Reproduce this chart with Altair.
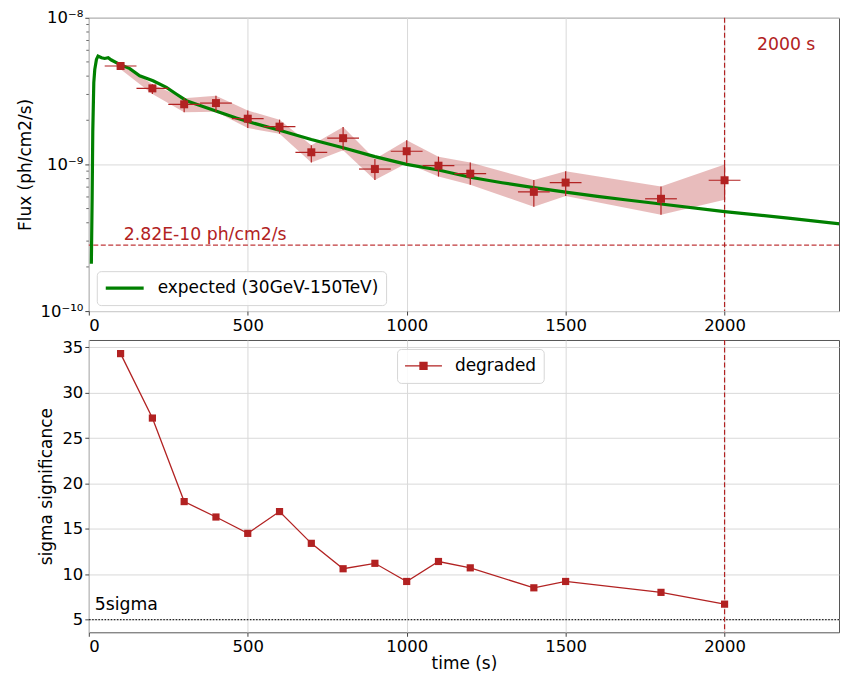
import altair as alt
import pandas as pd

RED = "#b22222"
GREEN = "#008000"
FONT = "DejaVu Sans"

# ---- data ----
t_bins = [100, 200, 300, 400, 500, 600, 700, 800, 900, 1000, 1100, 1200, 1400, 1500, 1800, 2000]
t_halfwidth = [50, 50, 50, 50, 50, 50, 50, 50, 50, 50, 50, 50, 50, 50, 50, 50]
flux = [4.69e-9, 3.30e-9, 2.57e-9, 2.62e-9, 2.05e-9, 1.81e-9, 1.21e-9, 1.51e-9,
        9.3e-10, 1.23e-9, 9.8e-10, 8.65e-10, 6.5e-10, 7.52e-10, 5.83e-10, 7.8e-10]
flux_low = [4.45e-9, 3.02e-9, 2.27e-9, 2.29e-9, 1.77e-9, 1.62e-9, 1.03e-9, 1.25e-9,
            7.83e-10, 1.02e-9, 8.26e-10, 7.26e-10, 5.14e-10, 6.08e-10, 4.54e-10, 5.74e-10]
flux_high = [4.89e-9, 3.52e-9, 2.83e-9, 2.94e-9, 2.33e-9, 2.02e-9, 1.35e-9, 1.80e-9,
             1.09e-9, 1.46e-9, 1.13e-9, 1.03e-9, 7.83e-10, 9.0e-10, 7.06e-10, 1.0e-9]
sigma = [34.3, 27.2, 18.0, 16.3, 14.5, 16.9, 13.4, 10.6, 11.2, 9.2, 11.4, 10.7, 8.5, 9.2, 8.0, 6.7]

model_t = [8, 10.5, 12.5, 15.7, 18.8, 24, 29, 40, 50, 61, 71, 97, 129, 160, 202, 244, 275,
           307, 359, 411, 464, 500, 600, 700, 800, 900, 1000, 1100, 1200, 1300, 1400, 1500,
           1600, 1700, 1800, 2000, 2200, 2385]
model_flux = [2.1e-10, 5.9e-10, 1.67e-9, 3.62e-9, 4.45e-9, 5.2e-9, 5.48e-9, 5.34e-9, 5.28e-9,
              5.34e-9, 5.15e-9, 4.81e-9, 4.5e-9, 4.02e-9, 3.72e-9, 3.35e-9, 3.02e-9, 2.72e-9,
              2.48e-9, 2.27e-9, 2.07e-9, 1.96e-9, 1.71e-9, 1.48e-9, 1.30e-9, 1.13e-9, 1.0e-9,
              9.16e-10, 8.17e-10, 7.5e-10, 6.95e-10, 6.47e-10, 6.05e-10, 5.7e-10, 5.37e-10,
              4.77e-10, 4.3e-10, 3.89e-10]

threshold_flux = [2.82e-10]
threshold_label = ["2.82E-10 ph/cm2/s"]
duration = [2000]
duration_label = ["2000 s"]
sigma_limit = [5]
sigma_label = ["5sigma"]

x_ticks = [0, 500, 1000, 1500, 2000]
x_domain = [0, 2360]
flux_ticks = [1e-10, 1e-9, 1e-8]
flux_tick_labels = ["10⁻¹⁰", "10⁻⁹", "10⁻⁸"]
flux_minor = [2e-10, 3e-10, 4e-10, 5e-10, 6e-10, 7e-10, 8e-10, 9e-10,
              2e-9, 3e-9, 4e-9, 5e-9, 6e-9, 7e-9, 8e-9, 9e-9]
sigma_ticks = [5, 10, 15, 20, 25, 30, 35]
sigma_domain = [3.6, 35.8]

model_name = "expected (30GeV-150TeV)"
sig_name = "degraded"

# ---- tables ----
pts = pd.DataFrame({
    "t": t_bins,
    "t_lo": [a - b for a, b in zip(t_bins, t_halfwidth)],
    "t_hi": [a + b for a, b in zip(t_bins, t_halfwidth)],
    "flux": flux, "lo": flux_low, "hi": flux_high,
    "sigma": sigma,
})
model = pd.DataFrame({"t": model_t, "flux": model_flux, "series": model_name})
sigdf = pd.DataFrame({"t": t_bins, "sigma": sigma, "series": sig_name})

W, H1, H2 = 752, 294, 293

xs = alt.Scale(domain=x_domain, nice=False, zero=False)
x_axis = alt.Axis(values=x_ticks, title=None, grid=True, format="d")
ys_flux = alt.Scale(type="log", domain=[flux_ticks[0], flux_ticks[-1]], nice=False)

label_expr = " : ".join(
    f"datum.value < {v * 3:.3e} ? '{lab}'" for v, lab in zip(flux_ticks[:-1], flux_tick_labels[:-1])
) + f" : '{flux_tick_labels[-1]}'"

y_axis_flux = alt.Axis(values=flux_ticks, labelExpr=label_expr, title="Flux (ph/cm2/s)",
                       grid=True, titlePadding=6)

legend_common = dict(
    title=None, orient="none", clipHeight=20, labelFontSize=17, labelOffset=12, padding=7,
    strokeColor="#d6d6d6", fillColor="rgba(255,255,255,0.85)", cornerRadius=4,
    labelColor="black", symbolOffset=0, labelLimit=500,
)

base = alt.Chart(pts)

band = base.mark_area(color=RED, opacity=0.3, interpolate="linear").encode(
    x=alt.X("t:Q", scale=xs, axis=x_axis),
    y=alt.Y("hi:Q", scale=ys_flux, axis=y_axis_flux),
    y2="lo:Q",
)

minor = alt.Chart(pd.DataFrame({"v": flux_minor})).mark_rule(color="#444", strokeWidth=0.8).encode(
    x=alt.value(-2.5), x2=alt.value(0), y=alt.Y("v:Q", scale=ys_flux)
)

hline = alt.Chart(pd.DataFrame({"y": threshold_flux})).mark_rule(
    color="#c0393b", strokeDash=[5, 2.5], strokeWidth=1.2
).encode(y=alt.Y("y:Q", scale=ys_flux))

vline_top = alt.Chart(pd.DataFrame({"x": duration})).mark_rule(
    color=RED, strokeDash=[5, 2.5], strokeWidth=1.2
).encode(x=alt.X("x:Q", scale=xs))

green = alt.Chart(model).mark_line(strokeWidth=3.2, clip=True).encode(
    x=alt.X("t:Q", scale=xs),
    y=alt.Y("flux:Q", scale=ys_flux),
    color=alt.Color("series:N", scale=alt.Scale(domain=[model_name], range=[GREEN]),
                    legend=alt.Legend(legendX=8, legendY=254, symbolType="stroke",
                                      symbolSize=1444, symbolStrokeWidth=3.2, **legend_common)),
)

xerr = base.mark_rule(color=RED, strokeWidth=1.2).encode(
    x=alt.X("t_lo:Q", scale=xs), x2="t_hi:Q", y=alt.Y("flux:Q", scale=ys_flux)
)
yerr = base.mark_rule(color=RED, strokeWidth=1.2).encode(
    x=alt.X("t:Q", scale=xs), y=alt.Y("lo:Q", scale=ys_flux), y2="hi:Q"
)
marks = base.mark_point(shape="square", filled=True, color=RED, opacity=1, size=64).encode(
    x=alt.X("t:Q", scale=xs), y=alt.Y("flux:Q", scale=ys_flux)
)

thr_text = alt.Chart(pd.DataFrame({"x": [110], "y": [3.05e-10], "s": threshold_label})).mark_text(
    color=RED, fontSize=17.3, align="left", baseline="alphabetic", font=FONT
).encode(x=alt.X("x:Q", scale=xs), y=alt.Y("y:Q", scale=ys_flux), text="s:N")

dur_text = alt.Chart(pd.DataFrame({"x": [2102], "y": [6.47e-9], "s": duration_label})).mark_text(
    color=RED, fontSize=17.3, align="left", baseline="middle", font=FONT
).encode(x=alt.X("x:Q", scale=xs), y=alt.Y("y:Q", scale=ys_flux), text="s:N")

top = alt.layer(band, minor, hline, vline_top, green, xerr, yerr, marks, thr_text, dur_text).properties(
    width=W, height=H1
)

# ---- bottom panel ----
ys_sig = alt.Scale(domain=sigma_domain, nice=False, zero=False)
y_axis_sig = alt.Axis(values=sigma_ticks, title="sigma significance", grid=True, titlePadding=6)
x_axis_bot = alt.Axis(values=x_ticks, title="time (s)", grid=True, format="d", titlePadding=1)

sline = alt.Chart(sigdf).mark_line(strokeWidth=1.3).encode(
    x=alt.X("t:Q", scale=xs, axis=x_axis_bot),
    y=alt.Y("sigma:Q", scale=ys_sig, axis=y_axis_sig),
    color=alt.Color("series:N", scale=alt.Scale(domain=[sig_name], range=[RED]),
                    legend=alt.Legend(
                        legendX=309, legendY=9,
                        symbolType="M-1,0L1,0M-0.19,-0.19L0.19,-0.19L0.19,0.19L-0.19,0.19Z",
                        symbolSize=1369, symbolStrokeWidth=1.3,
                        symbolFillColor=RED, symbolStrokeColor=RED, **legend_common)),
)
spts = alt.Chart(sigdf).mark_point(shape="square", filled=True, color=RED, opacity=1, size=52).encode(
    x=alt.X("t:Q", scale=xs), y=alt.Y("sigma:Q", scale=ys_sig)
)
five = alt.Chart(pd.DataFrame({"y": sigma_limit})).mark_rule(
    color="#222", strokeDash=[1.5, 1.6], strokeWidth=1.2
).encode(y=alt.Y("y:Q", scale=ys_sig))
vline_bot = alt.Chart(pd.DataFrame({"x": duration})).mark_rule(
    color=RED, strokeDash=[5, 2.5], strokeWidth=1.2
).encode(x=alt.X("x:Q", scale=xs))
five_text = alt.Chart(pd.DataFrame({"x": [19], "y": [6.6], "s": sigma_label})).mark_text(
    color="black", fontSize=17.3, align="left", baseline="middle", font=FONT
).encode(x=alt.X("x:Q", scale=xs), y=alt.Y("y:Q", scale=ys_sig), text="s:N")

bottom = alt.layer(five, vline_bot, sline, spts, five_text).properties(width=W, height=H2)

chart = alt.vconcat(top, bottom, spacing=29, bounds="flush").resolve_scale(
    color="independent"
).properties(
    padding={"left": 7, "top": 0, "right": 0, "bottom": 0}
).configure(
    font=FONT
).configure_view(
    stroke="#555", strokeWidth=1
).configure_axis(
    labelFontSize=16.5, titleFontSize=17, titleFontWeight="normal",
    labelColor="black", titleColor="black", labelFont=FONT, titleFont=FONT,
    domain=False, tickColor="#444", tickSize=4, tickWidth=1, labelPadding=2,
    gridColor="#d9d9d9", gridWidth=1,
).configure_legend(
    labelFont=FONT
)

chart.save("out.html", embed_options={"renderer": "svg", "actions": False})
